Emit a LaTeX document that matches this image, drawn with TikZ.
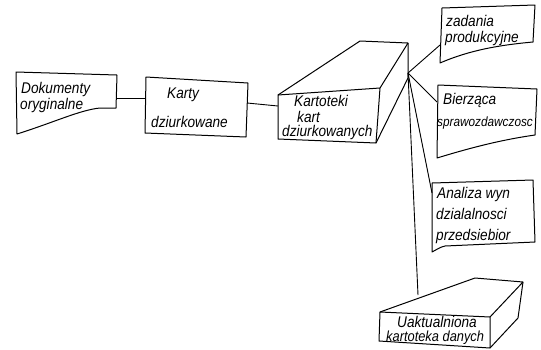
\documentclass[tikz,border=0pt]{standalone}
\usepackage{fontspec}
\setmainfont{Liberation Sans}[FakeStretch=0.88]
\usetikzlibrary{calc}
\tikzset{
  outline/.style={draw, line width=1pt, line join=round},
  wire/.style={draw, line width=0.9pt},
  lbl/.style={anchor=base west, inner sep=0pt, font=\itshape\fontsize{15.5}{17}\selectfont},
  lblnarrow/.style={lbl, font=\itshape\fontsize{13.4}{16}\selectfont}
}
\begin{document}
\begin{tikzpicture}[x=1pt, y=-1pt]
  \useasboundingbox (0,0) rectangle (541,349);

  % dokumenty oryginalne
  \draw[outline] (16,72) -- (117,75) -- (116,108) -- (100,108)
    .. controls (80,110) and (55,122) .. (17,134) -- cycle;
  \node[lbl] (dok1) at (21,93) {Dokumenty};
  \node[lbl] (dok2) at (20,109) {oryginalne};
  \coordinate (dok-out) at (117,98);

  % karty dziurkowane
  \draw[outline] (146,77) -- (248,83) -- (246,137) -- (145,133) -- cycle;
  \node[lbl] (kar1) at (167,98) {Karty};
  \node[lbl] (kar2) at (151,127) {dziurkowane};
  \coordinate (kar-in) at (146,98);
  \coordinate (kar-out) at (247,103);

  % kartoteki kart dziurkowanych
  \draw[outline] (278,95) -- (380,88) -- (376,143) -- (278,139) -- cycle;
  \draw[outline] (278,95) -- (360,41) -- (408,43) -- (380,88);
  \draw[outline] (408,43) -- (408,78) -- (376,143);
  \node[lbl] (kts1) at (294,106) {Kartoteki};
  \node[lbl] (kts2) at (297,122) {kart};
  \node[lbl] (kts3) at (282,136) {dziurkowanych};
  \coordinate (kts-in) at (278,106);
  \coordinate (kts-out) at (408,73);

  % zadania produkcyjne
  \draw[outline] (442,8) -- (535,5) -- (533,42)
    .. controls (500,45) and (470,50) .. (440,63) -- cycle;
  \node[lbl] (zad1) at (446,26) {zadania};
  \node[lbl] (zad2) at (445,42) {produkcyjne};
  \coordinate (zad-in) at (440,45);

  % biezaca sprawozdawczosc
  \draw[outline] (438,85) -- (537,89) -- (535,135)
    .. controls (500,140) and (470,148) .. (437,158) -- cycle;
  \node[lbl] (bie1) at (443,104) {Bierząca};
  \node[lblnarrow] (bie2) at (437,126) {sprawozdawczosc};
  \coordinate (bie-in) at (437,102);

  % analiza wynikow
  \draw[outline] (432,183) -- (533,180) -- (535,242) -- (445,246)
    .. controls (440,247) and (436,250) .. (432,252) -- cycle;
  \node[lbl] (ana1) at (437,198) {Analiza wyn};
  \node[lbl] (ana2) at (436,219) {dzialalnosci};
  \node[lbl] (ana3) at (436,240) {przedsiebior};
  \coordinate (ana-in) at (432,193);

  % uaktualniona kartoteka
  \draw[outline] (380,312) -- (490,317) -- (490,348) -- (379,341) -- cycle;
  \draw[outline] (380,312) -- (475,278) -- (523,282) -- (490,317);
  \draw[outline] (523,282) -- (518,318) -- (490,348);
  \node[lbl] (uak1) at (397,327) {Uaktualniona};
  \node[lbl, font=\itshape\fontsize{14.6}{16}\selectfont] (uak2) at (386,341) {kartoteka danych};
  \coordinate (uak-in) at (418,295);

  % polaczenia
  \draw[wire] (dok-out) -- (kar-in);
  \draw[wire] (kar-out) -- (kts-in);
  \draw[wire] (kts-out) -- (zad-in);
  \draw[wire] (kts-out) -- (bie-in);
  \draw[wire] (kts-out) -- (ana-in);
  \draw[wire] (kts-out) -- (uak-in);
\end{tikzpicture}
\end{document}
